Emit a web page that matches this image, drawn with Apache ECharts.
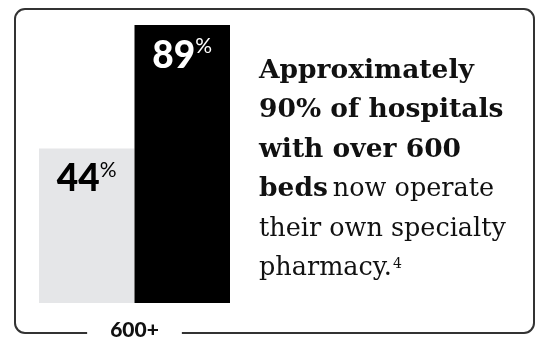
<!DOCTYPE html>
<html>
<head>
<meta charset="utf-8">
<script src="https://cdn.jsdelivr.net/npm/echarts@6/dist/echarts.min.js"></script>
<style>html,body{margin:0;padding:0;background:#fff}#c{width:538px;height:343px}</style>
</head>
<body>
<div id="c"></div>
<script>
const categories = ['600+'];
const seriesA = [44];
const seriesB = [89];
const colors = ['#e5e6e8', '#000000'];
const labelColors = ['#000000', '#ffffff'];

const chart = echarts.init(document.getElementById('c'), null, {renderer: 'canvas'});

function barLabel(color) {
  return {
    show: true,
    position: 'insideTop',
    distance: 11,
    formatter: function (p) { return '{v|' + p.value + '}{p|%}'; },
    rich: {
      v: {fontFamily: 'Lato', fontWeight: 900, fontSize: 37, color: color, lineHeight: 40},
      p: {fontFamily: 'Lato', fontWeight: 400, fontSize: 21, color: color, lineHeight: 26, verticalAlign: 'top'}
    }
  };
}

chart.setOption({
  animation: false,
  backgroundColor: '#fff',
  title: {
    left: 254,
    top: 46,
    text: '{b|Approximately}\n{b|90% of hospitals}\n{b|with over 600}\n{b|beds} {n|now operate}\n{n|their own specialty}\n{n|pharmacy.}{s|4}',
    textStyle: {
      rich: {
        b: {fontFamily: 'DejaVu Serif', fontWeight: 'bold', fontSize: 26.5, lineHeight: 39.6, color: '#111'},
        n: {fontFamily: 'DejaVu Serif', fontWeight: 'normal', fontSize: 25.5, lineHeight: 39.6, color: '#111'},
        s: {fontFamily: 'DejaVu Serif', fontWeight: 'normal', fontSize: 14, lineHeight: 20, color: '#111', verticalAlign: 'middle', padding: [0, 0, 8, 1]}
      }
    }
  },
  graphic: [{
    type: 'rect',
    z: -1,
    shape: {x: 15, y: 9, width: 519, height: 324, r: 10},
    style: {fill: 'none', stroke: '#333', lineWidth: 2}
  }],
  grid: {left: 39, right: 308, top: 25, bottom: 36.3, containLabel: false},
  xAxis: {
    type: 'category',
    data: categories,
    z: 10,
    axisLine: {show: false},
    axisTick: {show: false},
    axisLabel: {
      margin: 14,
      fontFamily: 'Lato', fontWeight: 900, fontSize: 21, color: '#111',
      lineHeight: 22, backgroundColor: '#fff', padding: [2, 23]
    }
  },
  yAxis: {
    type: 'log',
    min: 18.2,
    max: 89,
    show: false,
    splitLine: {show: false}
  },
  series: [
    {type: 'bar', name: 'A', data: seriesA, barGap: '0%', barCategoryGap: '0%',
     itemStyle: {color: colors[0]}, label: barLabel(labelColors[0])},
    {type: 'bar', name: 'B', data: seriesB, barGap: '0%', barCategoryGap: '0%',
     itemStyle: {color: colors[1]}, label: barLabel(labelColors[1])}
  ]
});
</script>
</body>
</html>
